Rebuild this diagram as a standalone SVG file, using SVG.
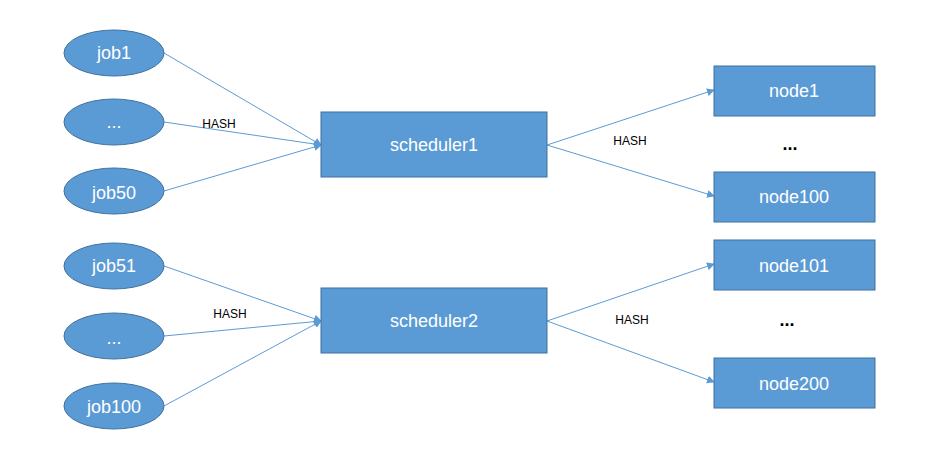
<svg xmlns="http://www.w3.org/2000/svg" width="945" height="449" viewBox="0 0 945 449">
<style>
.n{fill:#5b9bd5;stroke:#41719c;stroke-width:1}
.t{font-family:"Liberation Sans",Arial,sans-serif;fill:#fff;font-size:18px;text-anchor:middle;dominant-baseline:central}
.h{font-family:"Liberation Sans",Arial,sans-serif;fill:#000;font-size:12px;text-anchor:middle}
.c{stroke:#5b9bd5;stroke-width:1;fill:none;marker-end:url(#a)}
</style>
<defs><marker id="a" markerWidth="8" markerHeight="8" refX="7" refY="4" orient="auto" markerUnits="userSpaceOnUse"><path d="M0,0L8,4L0,8z" fill="#5b9bd5"/></marker></defs>
<rect width="945" height="449" fill="#fff"/>
<g id="connectors">
<path class="c" d="M164,53L321,145"/>
<path class="c" d="M164,122L321,145"/>
<path class="c" d="M164,191L321,145"/>
<path class="c" d="M547,145L714,90"/>
<path class="c" d="M547,145L714,196"/>
<path class="c" d="M164,266L321,321"/>
<path class="c" d="M164,336L321,321"/>
<path class="c" d="M164,406L321,321"/>
<path class="c" d="M547,321L714,264"/>
<path class="c" d="M547,321L714,382"/>
<text class="h" x="219" y="128">HASH</text>
<text class="h" x="630" y="145">HASH</text>
<text class="h" x="230" y="318">HASH</text>
<text class="h" x="632" y="324">HASH</text>
</g>
<g id="job1"><ellipse class="n" cx="114" cy="53" rx="50" ry="23"/><text class="t" x="114" y="53">job1</text></g>
<g id="jobdots1"><ellipse class="n" cx="114" cy="122" rx="50" ry="23"/><text class="t" x="114" y="122">...</text></g>
<g id="job50"><ellipse class="n" cx="114" cy="191" rx="50" ry="23"/><text class="t" x="114" y="193">job50</text></g>
<g id="job51"><ellipse class="n" cx="114" cy="266" rx="50" ry="23"/><text class="t" x="114" y="266">job51</text></g>
<g id="jobdots2"><ellipse class="n" cx="114" cy="336" rx="50" ry="23"/><text class="t" x="114" y="338">...</text></g>
<g id="job100"><ellipse class="n" cx="114" cy="406" rx="50" ry="23"/><text class="t" x="114" y="407">job100</text></g>
<g id="scheduler1"><rect class="n" x="321" y="112" width="226" height="65"/><text class="t" x="434" y="145">scheduler1</text></g>
<g id="scheduler2"><rect class="n" x="321" y="288" width="226" height="65"/><text class="t" x="434" y="321">scheduler2</text></g>
<g id="node1"><rect class="n" x="714" y="66" width="161" height="50"/><text class="t" x="794" y="91">node1</text></g>
<g id="node100"><rect class="n" x="714" y="172" width="161" height="50"/><text class="t" x="794" y="197">node100</text></g>
<g id="node101"><rect class="n" x="714" y="240" width="161" height="50"/><text class="t" x="794" y="266">node101</text></g>
<g id="node200"><rect class="n" x="714" y="358" width="161" height="50"/><text class="t" x="794" y="384">node200</text></g>
<text x="790" y="150" font-family="Liberation Sans,Arial,sans-serif" font-size="18" font-weight="bold" text-anchor="middle">...</text>
<text x="787" y="326" font-family="Liberation Sans,Arial,sans-serif" font-size="18" font-weight="bold" text-anchor="middle">...</text>
</svg>
